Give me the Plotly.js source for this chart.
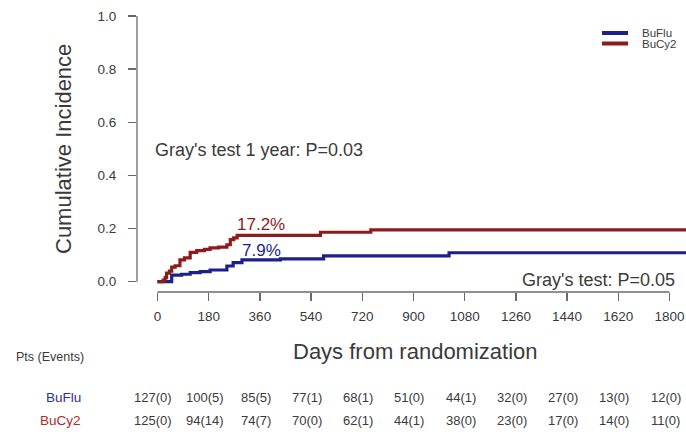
<!DOCTYPE html>
<html>
<head>
<meta charset="utf-8">
<script src="https://cdn.plot.ly/plotly-3.0.1.min.js"></script>
<style>html,body{margin:0;padding:0;background:#fff;}#chart{width:686px;height:437px;}</style>
</head>
<body>
<div id="chart"></div>
<script>
// ---- data ----
var seriesNames = ["BuFlu", "BuCy2"];
var buFluDays = [0, 50, 85, 115, 150, 185, 244, 266, 297, 432, 584, 1025, 1900];
var buFluCI   = [0, 0.025, 0.028, 0.034, 0.038, 0.044, 0.059, 0.072, 0.082, 0.086, 0.097, 0.109, 0.109];
var buCy2Days = [0, 20, 27, 32, 42, 50, 62, 79, 95, 115, 138, 165, 185, 215, 244, 256, 268, 280, 573, 750, 1900];
var buCy2CI   = [0, 0.006, 0.015, 0.032, 0.040, 0.055, 0.060, 0.082, 0.090, 0.110, 0.117, 0.122, 0.127, 0.130, 0.139, 0.158, 0.165, 0.174, 0.186, 0.195, 0.195];
var xTicks = [0, 180, 360, 540, 720, 900, 1080, 1260, 1440, 1620, 1800];
var yTicks = [0, 0.2, 0.4, 0.6, 0.8, 1.0];
var yTickLabels = ["0.0", "0.2", "0.4", "0.6", "0.8", "1.0"];
var buFluRisk = ["127(0)", "100(5)", "85(5)", "77(1)", "68(1)", "51(0)", "44(1)", "32(0)", "27(0)", "13(0)", "12(0)"];
var buCy2Risk = ["125(0)", "94(14)", "74(7)", "70(0)", "62(1)", "44(1)", "38(0)", "23(0)", "17(0)", "14(0)", "11(0)"];
var label1yBuFlu = "7.9%";
var label1yBuCy2 = "17.2%";
var grayTest1y = "Gray's test 1 year: P=0.03";
var grayTest = "Gray's test: P=0.05";

// ---- styles ----
var FONT = "Liberation Sans, Arial, Helvetica, sans-serif";
var BLUE = "#1c1f8c";
var RED = "#8c1c1c";
var TXT = "#3a3a3a";
var AX = "#6a6a6a";

// pixel helpers for paper coords (plot area: x 137..686, y 8..292)
var L = 137, R = 0, T = 8, B = 145, W = 686, H = 437;
var pw = W - L - R, ph = H - T - B;
function px(x) { return (x - L) / pw; }
function py(y) { return (H - B - y) / ph; }

var traces = [
  {x: buFluDays, y: buFluCI, name: seriesNames[0], type: "scatter", mode: "lines",
   line: {shape: "hv", color: BLUE, width: 3.2}, showlegend: false},
  {x: buCy2Days, y: buCy2CI, name: seriesNames[1], type: "scatter", mode: "lines",
   line: {shape: "hv", color: RED, width: 3.2}, showlegend: false}
];

var ann = [];
ann.push({x: -16, y: 0.496, xref: "x", yref: "y", text: grayTest1y, showarrow: false,
  xanchor: "left", yanchor: "middle", font: {family: FONT, size: 18, color: TXT}});
ann.push({x: 1827, y: 0.006, xref: "x", yref: "y", text: grayTest, showarrow: false,
  xanchor: "right", yanchor: "middle", font: {family: FONT, size: 18, color: TXT}});
ann.push({x: 272, y: 0.214, xref: "x", yref: "y", text: label1yBuCy2, showarrow: false,
  xanchor: "left", yanchor: "middle", font: {family: FONT, size: 17, color: RED}});
ann.push({x: 290, y: 0.119, xref: "x", yref: "y", text: label1yBuFlu, showarrow: false,
  xanchor: "left", yanchor: "middle", font: {family: FONT, size: 17, color: BLUE}});
// axis titles
ann.push({x: px(63), y: py(149), xref: "paper", yref: "paper", text: "Cumulative Incidence", textangle: -90,
  showarrow: false, xanchor: "center", yanchor: "middle", font: {family: FONT, size: 22, color: TXT}});
ann.push({x: px(415), y: py(351), xref: "paper", yref: "paper", text: "Days from randomization",
  showarrow: false, xanchor: "center", yanchor: "middle", font: {family: FONT, size: 22, color: TXT}});
// risk table
ann.push({x: px(50), y: py(357), xref: "paper", yref: "paper", text: "Pts (Events)",
  showarrow: false, xanchor: "center", yanchor: "middle", font: {family: FONT, size: 12.5, color: TXT}});
ann.push({x: px(83), y: py(397), xref: "paper", yref: "paper", text: seriesNames[0],
  showarrow: false, xanchor: "right", yanchor: "middle", font: {family: FONT, size: 13.5, color: "#2e2ea0"}});
ann.push({x: px(83), y: py(420), xref: "paper", yref: "paper", text: seriesNames[1],
  showarrow: false, xanchor: "right", yanchor: "middle", font: {family: FONT, size: 13.5, color: "#b02a2a"}});
for (var i = 0; i < xTicks.length; i++) {
  ann.push({x: xTicks[i], y: py(397), xref: "x", yref: "paper", text: buFluRisk[i], xshift: -4,
    showarrow: false, xanchor: "center", yanchor: "middle", font: {family: FONT, size: 13, color: TXT}});
  ann.push({x: xTicks[i], y: py(420), xref: "x", yref: "paper", text: buCy2Risk[i], xshift: -4,
    showarrow: false, xanchor: "center", yanchor: "middle", font: {family: FONT, size: 13, color: TXT}});
}
// legend
ann.push({x: px(640), y: py(33), xref: "paper", yref: "paper", text: seriesNames[0],
  showarrow: false, xanchor: "left", yanchor: "middle", font: {family: FONT, size: 11.5, color: TXT}});
ann.push({x: px(640), y: py(43.5), xref: "paper", yref: "paper", text: seriesNames[1],
  showarrow: false, xanchor: "left", yanchor: "middle", font: {family: FONT, size: 11.5, color: TXT}});

var shapes = [
  // R-style axis lines
  {type: "line", xref: "paper", yref: "y", x0: 0, x1: 0, y0: 0, y1: 1, line: {color: AX, width: 1.3}},
  {type: "line", xref: "x", yref: "paper", x0: 0, x1: 1800, y0: 0, y1: 0, line: {color: AX, width: 1.3}},
  // legend keys
  {type: "line", xref: "paper", yref: "paper", x0: px(602), x1: px(628), y0: py(33), y1: py(33), line: {color: BLUE, width: 4}},
  {type: "line", xref: "paper", yref: "paper", x0: px(602), x1: px(628), y0: py(43.5), y1: py(43.5), line: {color: RED, width: 4}}
];

var layout = {
  width: W, height: H,
  margin: {l: L, r: R, t: T, b: B, pad: 0},
  paper_bgcolor: "#fff", plot_bgcolor: "#fff",
  showlegend: false,
  xaxis: {range: [-72, 1858], showgrid: false, zeroline: false, showline: false,
    tickmode: "array", tickvals: xTicks, ticktext: xTicks.map(String),
    ticks: "outside", ticklen: 8, tickwidth: 1.3, tickcolor: AX,
    tickfont: {family: FONT, size: 13.5, color: TXT}, ticklabelstandoff: 4, fixedrange: true},
  yaxis: {range: [-0.0388, 1.0301], showgrid: false, zeroline: false, showline: false,
    tickmode: "array", tickvals: yTicks, ticktext: yTickLabels,
    ticks: "outside", ticklen: 8, tickwidth: 1.3, tickcolor: AX,
    tickfont: {family: FONT, size: 13.5, color: TXT}, ticklabelstandoff: 9, fixedrange: true},
  annotations: ann,
  shapes: shapes
};

Plotly.newPlot("chart", traces, layout, {staticPlot: true, displayModeBar: false});
</script>
</body>
</html>
